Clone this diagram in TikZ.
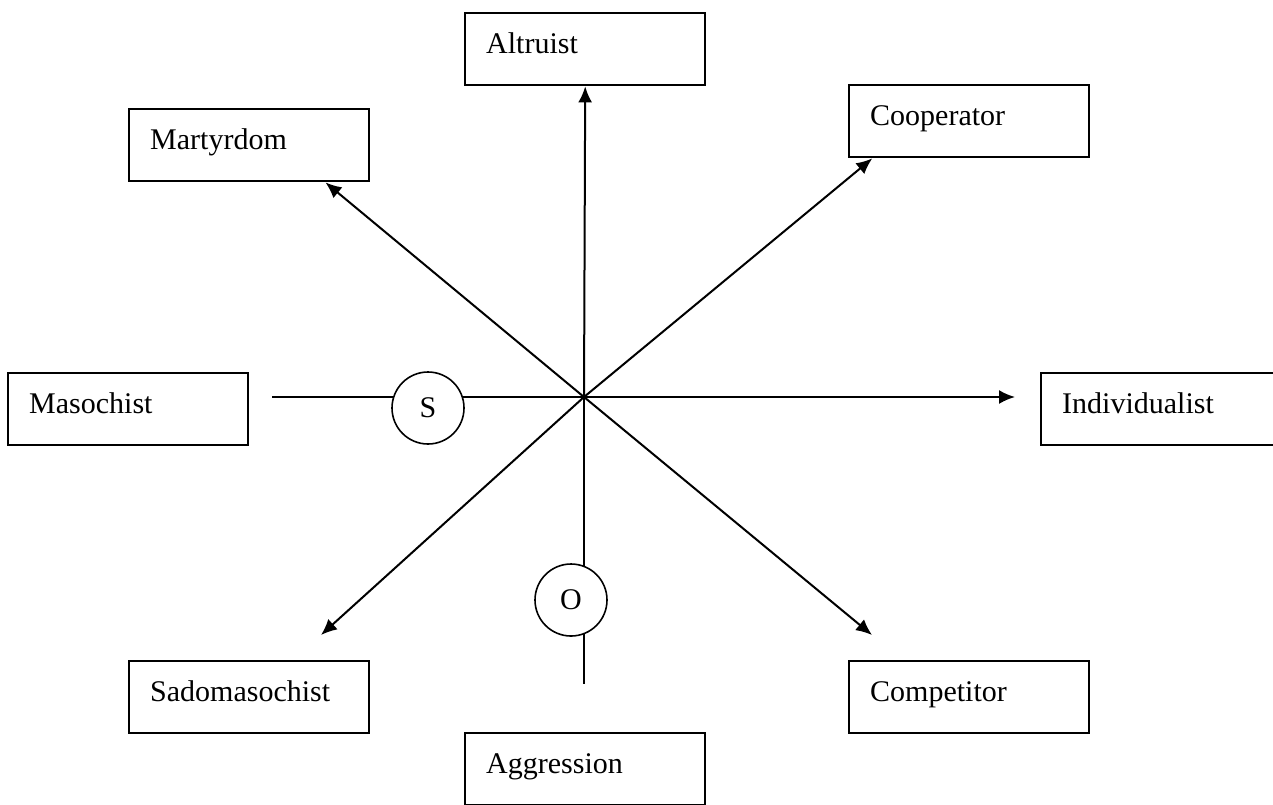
\documentclass[tikz,border=0pt]{standalone}
\usepackage{fontspec}
\setmainfont{Liberation Serif}
\usetikzlibrary{arrows.meta}
\tikzset{
  trait/.style={draw, line width=1.2pt, rectangle, anchor=north west, inner xsep=10.5pt, inner ysep=0pt, text width=99pt, text height=20pt, text depth=16pt, align=left, font=\fontsize{15}{18}\selectfont},
  ring/.style={draw, line width=0.8pt, circle, fill=white, minimum size=36pt, inner sep=0pt, font=\fontsize{15}{18}\selectfont},
  link/.style={line width=1pt}
}
\begin{document}
\begin{tikzpicture}[>={Latex[length=8pt,width=7pt]}, x=0.5pt, y=-0.5pt]
    \useasboundingbox (0,0) rectangle (1273,804);
    \coordinate (cen) at (584,397);
    \node at (464,12) [trait] (alt) {Altruist};
    \node at (128,108) [trait] (mart) {Martyrdom};
    \node at (848,84) [trait] (coop) {Cooperator};
    \node at (7,372) [trait] (maso) {Masochist};
    \node at (1040,372) [trait] (ind) {Individualist};
    \node at (128,660) [trait] (sado) {Sadomasochist};
    \node at (848,660) [trait] (comp) {Competitor};
    \node at (464,732) [trait] (agg) {Aggression};

    %% free line ends
    \coordinate (ind-end) at (1015,397);
    \coordinate (sado-end) at (321,635);
    \coordinate (comp-end) at (872,635);
    \coordinate (maso-end) at (272,397);
    \coordinate (agg-end) at (584,684);

    %% Arrows
    \draw [->, link] (cen) -- (alt.south);
    \draw [->, link] (cen) -- (mart.-26);
    \draw [->, link] (cen) -- (coop.-159);
    \draw [->, link] (cen) -- (ind-end);
    \draw [->, link] (cen) -- (sado-end);
    \draw [->, link] (cen) -- (comp-end);
    \draw [link] (maso-end) -- (cen);
    \draw [link] (cen) -- (agg-end);

    \node at (428,408) [ring] (s) {S};
    \node at (571,600) [ring] (o) {O};
  \end{tikzpicture}
\end{document}
